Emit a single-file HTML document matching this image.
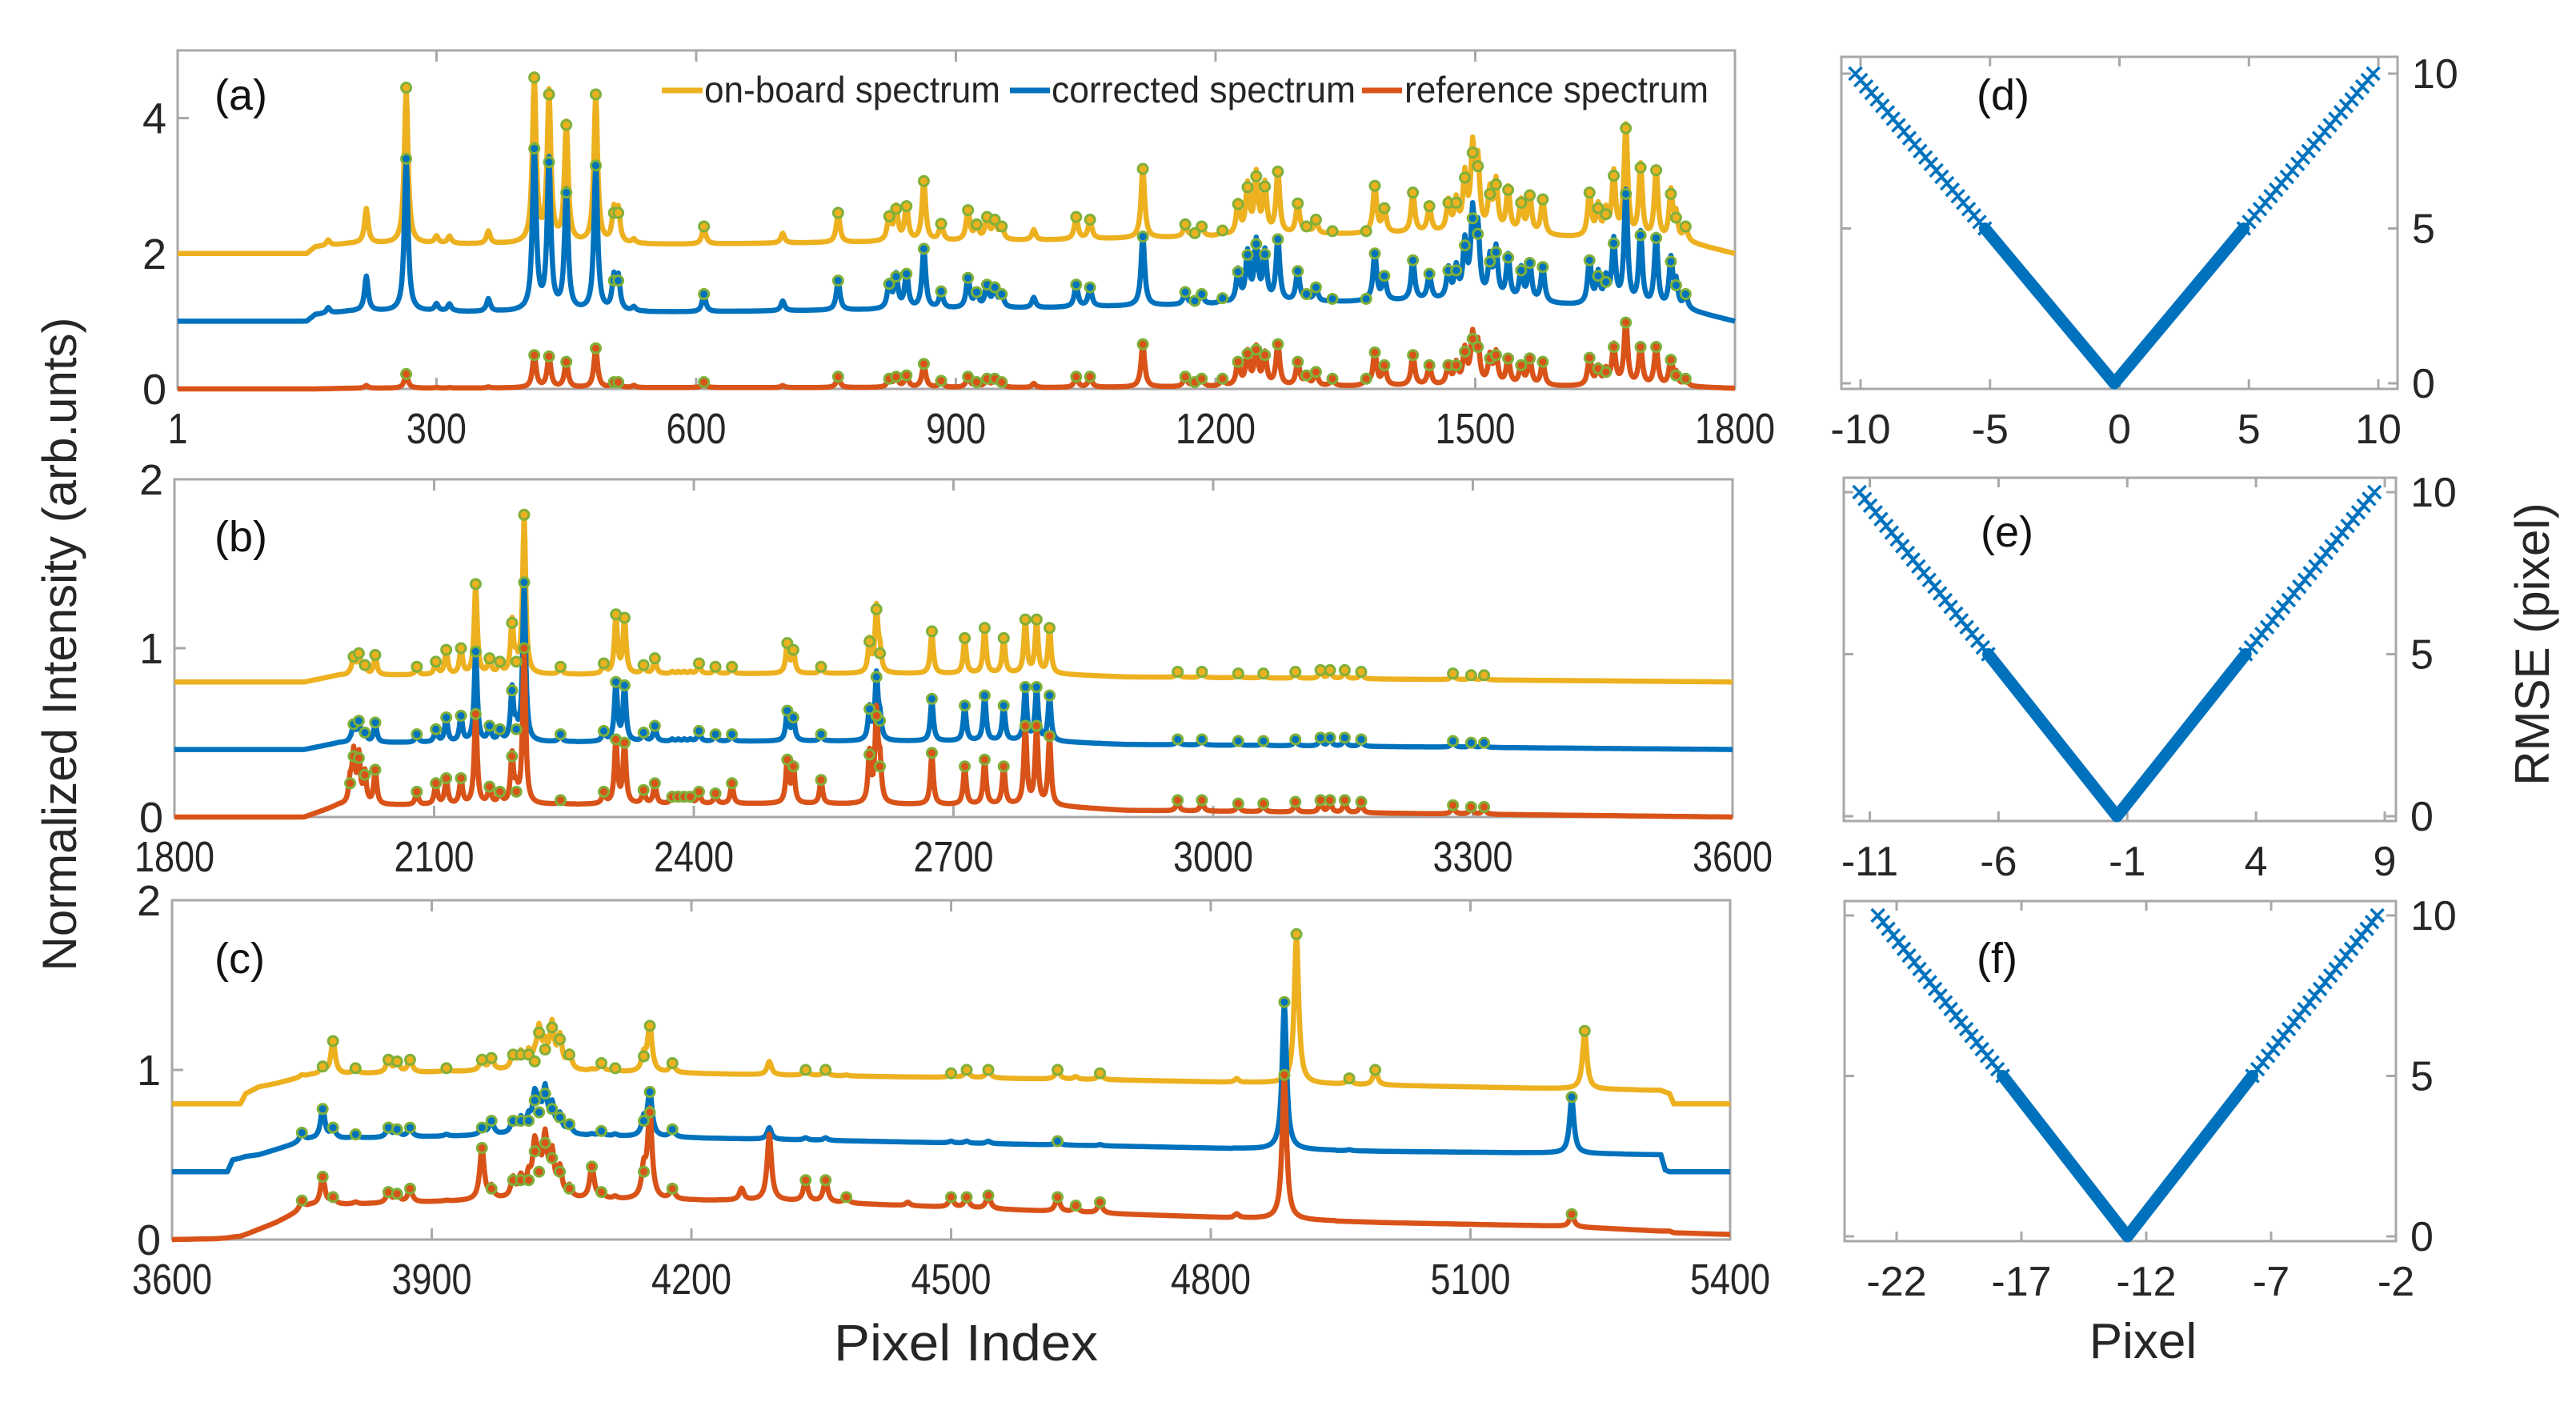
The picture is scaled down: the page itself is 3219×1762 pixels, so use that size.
<!DOCTYPE html>
<html><head><meta charset="utf-8"><style>
html,body{margin:0;padding:0;background:#fff;}
svg{display:block;font-family:"Liberation Sans",sans-serif;}
</style></head><body>
<svg id="fig" width="3219" height="1762" viewBox="0 0 3219 1762" xmlns="http://www.w3.org/2000/svg">
<rect x="0" y="0" width="3219" height="1762" fill="#fff"/>
<text transform="translate(95,805) rotate(-90)" text-anchor="middle" font-size="60" fill="#262626">Normalized Intensity (arb.unts)</text>
<text x="1207" y="1700" text-anchor="middle" font-size="64" fill="#262626" textLength="330" lengthAdjust="spacingAndGlyphs">Pixel Index</text>
<text transform="translate(3185,805) rotate(-90)" text-anchor="middle" font-size="60" fill="#262626">RMSE (pixel)</text>
<text x="2678" y="1697" text-anchor="middle" font-size="62" fill="#262626">Pixel</text>
<g>
<line x1="827" y1="113" x2="878" y2="113" stroke="#EDB120" stroke-width="7"/>
<text x="880" y="128" font-size="46" fill="#262626" textLength="370" lengthAdjust="spacingAndGlyphs">on-board spectrum</text>
<line x1="1262" y1="113" x2="1312" y2="113" stroke="#0072BD" stroke-width="7"/>
<text x="1314" y="128" font-size="46" fill="#262626" textLength="380" lengthAdjust="spacingAndGlyphs">corrected spectrum</text>
<line x1="1702" y1="113" x2="1752" y2="113" stroke="#D95319" stroke-width="7"/>
<text x="1755" y="128" font-size="46" fill="#262626" textLength="380" lengthAdjust="spacingAndGlyphs">reference spectrum</text>
</g>
</svg>
<script>
// ---------- Panel (a) data ----------
const aPeaks = [160,175,219,265,300,315,360,413,430,450,484,505,510,528,609,700,764,823,831,843,863,883,914,924,936,945,953,990,1039,1055,1116,1165,1176,1184,1208,1226,1237,1247,1257,1272,1295,1305,1316,1335,1374,1384,1395,1428,1447,1469,1478,1488,1497,1503,1517,1524,1538,1553,1563,1578,1632,1642,1651,1660,1674,1691,1709,1726,1732,1743];
const aOnboard = [2.1,2.2,2.66,4.45,2.25,2.25,2.33,4.6,4.35,3.9,4.35,2.6,2.6,2.2,2.4,2.3,2.6,2.55,2.66,2.7,3.07,2.44,2.64,2.43,2.54,2.5,2.4,2.35,2.54,2.5,3.25,2.43,2.3,2.4,2.34,2.73,2.98,3.14,2.99,3.21,2.74,2.4,2.5,2.33,2.33,3.0,2.67,2.9,2.7,2.75,2.75,3.12,3.49,3.29,2.88,3.02,2.94,2.75,2.86,2.8,2.9,2.67,2.58,3.15,3.85,3.27,3.23,2.88,2.53,2.4];
const aCorrected = [1.1,1.2,1.66,3.4,1.25,1.25,1.33,3.55,3.35,2.9,3.3,1.6,1.6,1.2,1.4,1.3,1.6,1.55,1.66,1.7,2.07,1.44,1.64,1.43,1.54,1.5,1.4,1.35,1.54,1.5,2.25,1.43,1.3,1.4,1.34,1.73,1.98,2.14,1.99,2.21,1.74,1.4,1.5,1.33,1.33,2.0,1.67,1.9,1.7,1.75,1.75,2.12,2.52,2.29,1.88,2.02,1.94,1.75,1.86,1.8,1.9,1.67,1.58,2.15,2.88,2.27,2.23,1.88,1.53,1.4];
const aReference = [0,0,0.05,0.22,0.02,0.02,0.03,0.5,0.48,0.4,0.6,0.1,0.1,0.05,0.1,0.05,0.18,0.15,0.18,0.2,0.37,0.12,0.18,0.1,0.15,0.15,0.1,0.08,0.18,0.18,0.66,0.18,0.1,0.15,0.15,0.4,0.52,0.58,0.5,0.66,0.4,0.2,0.25,0.15,0.15,0.54,0.35,0.5,0.35,0.35,0.35,0.55,0.74,0.62,0.45,0.5,0.45,0.35,0.45,0.4,0.46,0.3,0.25,0.62,0.98,0.62,0.62,0.43,0.2,0.15];
const aMarked = [0,0,0,1,0,0,0,1,1,1,1,1,1,0,1,0,1,1,1,1,1,1,1,1,1,1,1,0,1,1,1,1,1,1,1,1,1,1,1,1,1,1,1,1,1,1,1,1,1,1,1,1,1,1,1,1,1,1,1,1,1,1,1,1,1,1,1,1,1,1];
const aBaseX = [1,150,160,200,600,1000,1300,1500,1750,1800];
const aBaseOnboard = [2.0,2.0,2.1,2.15,2.14,2.2,2.28,2.32,2.15,2.0];
const aBaseCorrected = [1.0,1.0,1.1,1.15,1.14,1.2,1.28,1.32,1.15,1.0];
const aBaseReference = [0,0,0,0.01,0.02,0.02,0.04,0.05,0.03,0.01];
const aXTicks = [1,300,600,900,1200,1500,1800];
const aYTicks = [0,2,4];

// ---------- Panel (b) data ----------
const bPeaks = [2003,2007,2013,2020,2032,2080,2102,2114,2131,2148,2164,2176,2190,2195,2204,2246,2296,2310,2320,2342,2355,2375,2382,2389,2396,2406,2425,2444,2508,2515,2547,2603,2611,2615,2675,2713,2736,2758,2783,2796,2811,2959,2987,3029,3058,3095,3124,3135,3152,3171,3277,3298,3313];
const bOnboard = [0.85,0.95,0.97,0.9,0.96,0.89,0.92,0.99,1.0,1.38,0.94,0.92,1.15,0.92,1.79,0.89,0.91,1.2,1.18,0.9,0.94,0.86,0.86,0.86,0.86,0.91,0.89,0.89,1.03,0.99,0.89,1.04,1.23,0.97,1.1,1.06,1.12,1.06,1.17,1.17,1.12,0.86,0.86,0.85,0.85,0.86,0.87,0.87,0.87,0.86,0.85,0.84,0.84];
const bCorrected = [0.45,0.55,0.57,0.5,0.56,0.49,0.52,0.59,0.6,0.98,0.54,0.52,0.75,0.52,1.39,0.49,0.51,0.8,0.78,0.5,0.54,0.46,0.46,0.46,0.46,0.51,0.49,0.49,0.63,0.59,0.49,0.64,0.83,0.57,0.7,0.66,0.72,0.66,0.77,0.77,0.72,0.46,0.46,0.45,0.45,0.46,0.47,0.47,0.47,0.46,0.45,0.44,0.44];
const bReference = [0.2,0.36,0.35,0.25,0.28,0.15,0.2,0.23,0.23,0.61,0.18,0.15,0.36,0.15,1.0,0.1,0.15,0.46,0.44,0.16,0.2,0.12,0.12,0.12,0.12,0.15,0.14,0.2,0.34,0.3,0.22,0.37,0.6,0.3,0.38,0.3,0.34,0.3,0.54,0.54,0.48,0.1,0.1,0.08,0.08,0.09,0.1,0.1,0.1,0.09,0.07,0.06,0.06];
const bBaseX = [1800,1950,1990,2500,2800,2900,3600];
const bBaseOnboard = [0.8,0.8,0.84,0.85,0.85,0.83,0.8];
const bBaseCorrected = [0.4,0.4,0.44,0.45,0.45,0.43,0.4];
const bBaseReference = [0,0,0.07,0.08,0.07,0.04,0.0];
const bXTicks = [1800,2100,2400,2700,3000,3300,3600];
const bYTicks = [0,1,2];

// ---------- Panel (c) data ----------
const cPeaks = [3750,3774,3786,3812,3850,3860,3875,3917,3958,3969,3994,4003,4012,4019,4024,4031,4039,4048,4059,4085,4096,4112,4145,4152,4178,4258,4290,4332,4355,4379,4450,4500,4518,4543,4623,4644,4672,4830,4885,4899,4960,4990,5217,5232];
const cOnboard = [0.97,1.02,1.17,1.01,1.06,1.05,1.06,1.01,1.06,1.07,1.09,1.09,1.09,1.05,1.22,1.12,1.25,1.18,1.09,1.0,1.04,1.01,1.08,1.26,1.04,0.95,1.05,1.0,1.0,0.97,0.95,0.98,1.0,1.0,1.0,0.96,0.98,0.95,0.9,1.8,0.95,1.0,0.88,1.23];
const cCorrected = [0.63,0.77,0.66,0.62,0.66,0.65,0.66,0.62,0.66,0.7,0.7,0.7,0.7,0.82,0.75,0.86,0.77,0.72,0.68,0.62,0.64,0.62,0.7,0.87,0.65,0.56,0.66,0.6,0.6,0.58,0.56,0.58,0.58,0.58,0.58,0.55,0.56,0.52,1.4,0.52,0.53,0.52,0.84,0.5];
const cReference = [0.23,0.37,0.25,0.22,0.28,0.27,0.3,0.23,0.54,0.3,0.35,0.35,0.35,0.52,0.4,0.57,0.48,0.4,0.3,0.43,0.28,0.25,0.4,0.75,0.3,0.3,0.62,0.35,0.35,0.25,0.22,0.25,0.25,0.26,0.25,0.2,0.22,0.15,0.97,0.1,0.1,0.08,0.15,0.06];
const cMarked = [1,1,1,1,1,1,1,1,1,1,1,1,1,1,1,1,1,1,1,1,1,1,1,1,1,0,0,1,1,1,1,1,1,1,1,1,1,0,1,1,1,1,1,1];
const cBaseX = [3600,3650,3664,3670,3679,3685,3700,3720,3760,4000,4300,4700,5000,5200,5320,5325,5330,5335,5400];
const cBaseOnboard = [0.8,0.8,0.8,0.8,0.8,0.86,0.9,0.92,0.97,1.0,0.97,0.94,0.91,0.89,0.88,0.87,0.86,0.8,0.8];
const cBaseCorrected = [0.4,0.4,0.4,0.47,0.48,0.49,0.5,0.53,0.59,0.62,0.59,0.55,0.52,0.51,0.5,0.41,0.4,0.4,0.4];
const cBaseReference = [0,0.005,0.01,0.015,0.02,0.03,0.06,0.1,0.2,0.24,0.23,0.15,0.1,0.08,0.05,0.05,0.05,0.04,0.03];
const cXTicks = [3600,3900,4200,4500,4800,5100,5400];
const cYTicks = [0,1,2];

// ---------- RMSE panels (d)(e)(f) ----------
const dShift = [-10.2,-0.2,9.8];
const dRmse = [10,0,10];
const dXTicks = [-10,-5,0,5,10];
const eShift = [-11.4,-1.4,8.6];
const eRmse = [10,0,10];
const eXTicks = [-11,-6,-1,4,9];
const fShift = [-22.75,-12.75,-2.75];
const fRmse = [10,0,10];
const fXTicks = [-22,-17,-12,-7,-2];
const rYTicks = [0,5,10];

const NS = "http://www.w3.org/2000/svg";
const svg = document.getElementById('fig');
const COL = {on:"#EDB120", co:"#0072BD", re:"#D95319", mk:"#7FB03A", ax:"#a8a8a8", tx:"#262626"};

function mk(tag, attrs, parent){
  const e = document.createElementNS(NS, tag);
  for (const k in attrs) e.setAttribute(k, attrs[k]);
  (parent||svg).appendChild(e);
  return e;
}
function interp(xs, ys, x){
  if (x <= xs[0]) return ys[0];
  for (let i=1;i<xs.length;i++){
    if (x <= xs[i]) { const t=(x-xs[i-1])/(xs[i]-xs[i-1]); return ys[i-1]+t*(ys[i]-ys[i-1]); }
  }
  return ys[ys.length-1];
}
function makeScale(d0,d1,r0,r1){ return v => r0 + (v-d0)*(r1-r0)/(d1-d0); }

function specPanel(cfg){
  const g = mk('g',{});
  
  
  const X = makeScale(cfg.xd[0],cfg.xd[1],cfg.box[0],cfg.box[2]);
  const Y = makeScale(cfg.yd[0],cfg.yd[1],cfg.box[3],cfg.box[1]);
  const fr = mk('rect',{x:cfg.box[0],y:cfg.box[1],width:cfg.box[2]-cfg.box[0],height:cfg.box[3]-cfg.box[1],fill:'none',stroke:COL.ax,'stroke-width':3},g);
  
  
  cfg.xticks.forEach(t=>{
    const x = X(t);
    mk('line',{x1:x,y1:cfg.box[3],x2:x,y2:cfg.box[3]-14,stroke:COL.ax,'stroke-width':3},g);
    mk('line',{x1:x,y1:cfg.box[1],x2:x,y2:cfg.box[1]+14,stroke:COL.ax,'stroke-width':3},g);
    const tl = mk('text',{x:x,y:cfg.box[3]+68,'text-anchor':'middle','font-size':54,fill:COL.tx},g);
    
    
    tl.textContent = t;
    const w = String(t).length*25;
    tl.setAttribute('textLength', w); tl.setAttribute('lengthAdjust','spacingAndGlyphs');
  });
  cfg.yticks.forEach(t=>{
    const y = Y(t);
    mk('line',{x1:cfg.box[0],y1:y,x2:cfg.box[0]+14,y2:y,stroke:COL.ax,'stroke-width':3},g);
    const tl = mk('text',{x:cfg.box[0]-14,y:y+19,'text-anchor':'end','font-size':54,fill:COL.tx},g);
    
    
    tl.textContent = t;
  });
  const series = [
    {key:'onboard', vals:cfg.on, base:cfg.bOn, col:COL.on},
    {key:'corrected', vals:cfg.co, base:cfg.bCo, col:COL.co},
    {key:'reference', vals:cfg.re, base:cfg.bRe, col:COL.re}
  ];
  series.forEach(s=>{
    const amps = cfg.peaks.map((p,i)=>Math.max(0, s.vals[i]-interp(cfg.bx, s.base, p)));
    const gam = cfg.gamma;
    let d = '';
    for (let p=cfg.xd[0]; p<=cfg.xd[1]; p+=1){
      let v = interp(cfg.bx, s.base, p);
      for (let i=0;i<cfg.peaks.length;i++){
        const dx = p-cfg.peaks[i];
        if (Math.abs(dx) < 60) v += amps[i]*gam*gam/(dx*dx+gam*gam);
      }
      d += (d?'L':'M') + X(p).toFixed(1)+','+Y(v).toFixed(1);
    }
    const path = mk('path',{d:d,fill:'none',stroke:s.col,'stroke-width':6.5,'stroke-linejoin':'round'},g);
    
    
  });
  series.forEach(s=>{
    cfg.peaks.forEach((p,i)=>{
      if (!cfg.marked[i]) return;
      if (s.vals[i] - interp(cfg.bx, s.base, p) < 0.02) return;
      const c = mk('circle',{cx:X(p),cy:Y(s.vals[i]),r:6,fill:s.col,stroke:COL.mk,'stroke-width':3},g);
      
      
    });
  });
  const lab = mk('text',{x:cfg.labX,y:cfg.labY,'font-size':54,fill:'#111'},g);
  
  
  lab.textContent = cfg.label;
}

specPanel({name:'panel-a',box:[222,63,2168,486],xd:[1,1800],yd:[0,5],xticks:aXTicks,yticks:aYTicks,
  peaks:aPeaks,on:aOnboard,co:aCorrected,re:aReference,marked:aMarked,bx:aBaseX,bOn:aBaseOnboard,bCo:aBaseCorrected,bRe:aBaseReference,gamma:2.5,label:'(a)',labX:268,labY:137});
specPanel({name:'panel-b',box:[218,599,2165,1021],xd:[1800,3600],yd:[0,2],xticks:bXTicks,yticks:bYTicks,
  peaks:bPeaks,on:bOnboard,co:bCorrected,re:bReference,marked:bPeaks.map(()=>1),bx:bBaseX,bOn:bBaseOnboard,bCo:bBaseCorrected,bRe:bBaseReference,gamma:2,label:'(b)',labX:268,labY:689});
specPanel({name:'panel-c',box:[215,1125,2162,1549],xd:[3600,5400],yd:[0,2],xticks:cXTicks,yticks:cYTicks,
  peaks:cPeaks,on:cOnboard,co:cCorrected,re:cReference,marked:cMarked,bx:cBaseX,bOn:cBaseOnboard,bCo:cBaseCorrected,bRe:cBaseReference,gamma:3,label:'(c)',labX:268,labY:1216});

function rmsePanel(cfg){
  const g = mk('g',{});
  
  
  const X = makeScale(cfg.xt[0],cfg.xt[1],cfg.xp[0],cfg.xp[1]);
  const Y = makeScale(0,10,cfg.yp[0],cfg.yp[1]);
  const fr = mk('rect',{x:cfg.box[0],y:cfg.box[1],width:cfg.box[2]-cfg.box[0],height:cfg.box[3]-cfg.box[1],fill:'none',stroke:COL.ax,'stroke-width':3},g);
  
  
  cfg.xticks.forEach(t=>{
    const x=X(t);
    mk('line',{x1:x,y1:cfg.box[3],x2:x,y2:cfg.box[3]-12,stroke:COL.ax,'stroke-width':3},g);
    mk('line',{x1:x,y1:cfg.box[1],x2:x,y2:cfg.box[1]+12,stroke:COL.ax,'stroke-width':3},g);
    const tl = mk('text',{x:x,y:cfg.box[3]+68,'text-anchor':'middle','font-size':52,fill:COL.tx},g);
    
    
    tl.textContent = t;
  });
  rYTicks.forEach(t=>{
    const y=Y(t);
    mk('line',{x1:cfg.box[2],y1:y,x2:cfg.box[2]-12,y2:y,stroke:COL.ax,'stroke-width':3},g);
    mk('line',{x1:cfg.box[0],y1:y,x2:cfg.box[0]+12,y2:y,stroke:COL.ax,'stroke-width':3},g);
    const tl = mk('text',{x:cfg.box[2]+18,y:y+18,'font-size':52,fill:COL.tx},g);
    
    
    tl.textContent = t;
  });
  const sx = cfg.shift, ry = cfg.rmse;
  const innerL = sx[1] + (sx[0]-sx[1])*(5-ry[1])/(ry[0]-ry[1]);
  const innerR = sx[1] + (sx[2]-sx[1])*(5-ry[1])/(ry[2]-ry[1]);
  const th = mk('path',{d:'M'+X(innerL)+','+Y(5)+'L'+X(sx[1])+','+Y(ry[1])+'L'+X(innerR)+','+Y(5),fill:'none',stroke:'#0072BD','stroke-width':15,'stroke-linejoin':'round','stroke-linecap':'round'},g);
  
  
  let d='';
  [[0,innerL],[2,innerR]].forEach(([ei,lim])=>{
    const n = 24;
    for (let k=0;k<=n;k++){
      const t=k/n;
      const s = sx[ei] + (lim - sx[ei])*t;
      const r = ry[ei] + (5 - ry[ei])*t;
      const x=X(s), y=Y(r), h=8;
      d += 'M'+(x-h)+','+(y-h)+'L'+(x+h)+','+(y+h)+'M'+(x-h)+','+(y+h)+'L'+(x+h)+','+(y-h);
    }
  });
  const cr = mk('path',{d:d,fill:'none',stroke:'#0072BD','stroke-width':3.5},g);
  
  
  const lab = mk('text',{x:cfg.lab[0],y:cfg.lab[1],'font-size':54,fill:'#111'},g);
  
  
  lab.textContent = cfg.label;
}
rmsePanel({name:'panel-d',box:[2301,71,2996,486],xt:[-10,10],xp:[2325,2972],yp:[479,92],xticks:dXTicks,shift:dShift,rmse:dRmse,label:'(d)',lab:[2470,137]});
rmsePanel({name:'panel-e',box:[2304,597,2994,1026],xt:[-11,9],xp:[2336.5,2980],yp:[1020,615],xticks:eXTicks,shift:eShift,rmse:eRmse,label:'(e)',lab:[2475,683]});
rmsePanel({name:'panel-f',box:[2305,1126,2994,1551],xt:[-22,-2],xp:[2370,2994],yp:[1545,1144],xticks:fXTicks,shift:fShift,rmse:fRmse,label:'(f)',lab:[2470,1216]});
</script>
</body></html>
